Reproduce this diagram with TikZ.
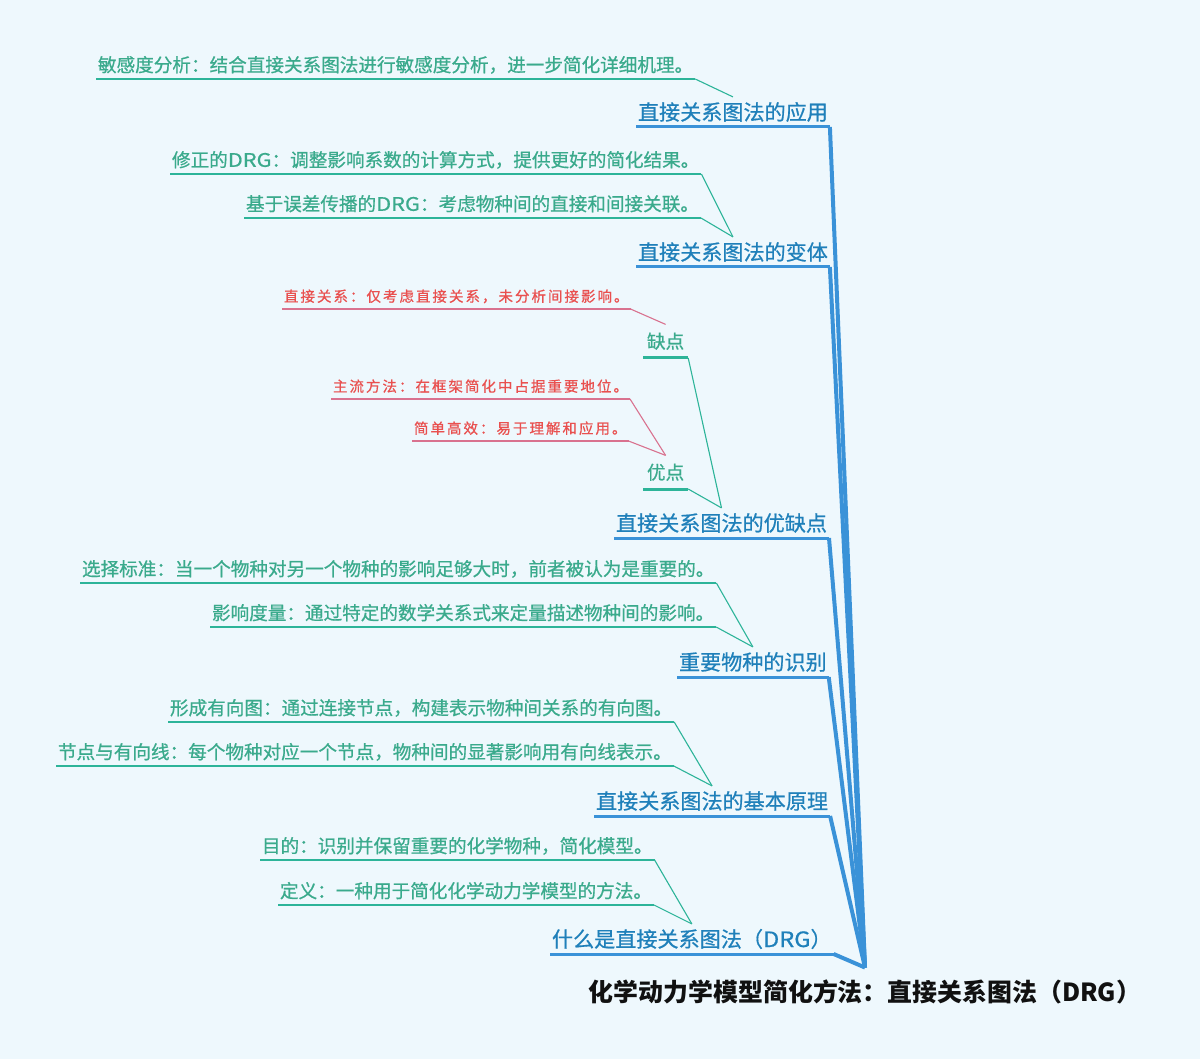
\documentclass[tikz,border=0pt]{standalone}
\usepackage{fontspec}
\usepackage{graphicx}
\setmainfont{Noto Sans CJK SC}
\newfontfamily\medf[FakeBold=0.7]{Noto Sans CJK SC}
\newfontfamily\medls[FakeBold=0.7,LetterSpace=13.8]{Noto Sans CJK SC}
\definecolor{bgc}{HTML}{EEF8FD}
\definecolor{leaft}{HTML}{3AAA8C}
\definecolor{leafl}{HTML}{2DB499}
\definecolor{brt}{HTML}{1F80BA}
\definecolor{brl}{HTML}{3A92D8}
\definecolor{redt}{HTML}{E9504F}
\definecolor{pinkl}{HTML}{D9728F}
\definecolor{roott}{HTML}{111111}
\newcommand\ldrg{\scalebox{1.17}[1]{DRG}}
\newcommand\bdrg{\scalebox{1.12}[1]{DRG}}
\begin{document}
\begin{tikzpicture}[x=1pt,y=-1pt,
  leaf/.style={anchor=south west,inner xsep=2pt,inner ysep=5pt,outer sep=0pt,text=leaft,
    font=\medf\fontsize{18.6}{22}\selectfont,text height=16.4pt,text depth=2.2pt},
  redleaf/.style={anchor=south west,inner xsep=2pt,inner ysep=5.5pt,outer sep=0pt,text=redt,
    font=\medls\fontsize{14.5}{17}\selectfont,text height=12.8pt,text depth=1.8pt},
  sub/.style={anchor=south west,inner xsep=4pt,inner ysep=7.5pt,outer sep=0pt,text=leaft,
    font=\medf\fontsize{18.6}{22}\selectfont,text height=16.4pt,text depth=2.2pt},
  branch/.style={anchor=south west,inner xsep=2pt,inner ysep=4.5pt,outer sep=0pt,text=brt,
    font=\medf\fontsize{21.1}{25}\selectfont,text height=18.6pt,text depth=2.5pt},
  rootn/.style={anchor=center,inner xsep=2pt,inner ysep=12pt,outer sep=0pt,text=roott,
    font=\bfseries\fontsize{24.9}{29}\selectfont,text height=21.9pt,text depth=3pt},
  leafu/.style={draw=leafl,line width=2.6pt},
  subu/.style={draw=leafl,line width=3pt},
  redu/.style={draw=pinkl,line width=2.2pt},
  bru/.style={draw=brl,line width=3pt},
  tconn/.style={draw=leafl,line width=1.1pt},
  pconn/.style={draw=pinkl,line width=1.1pt},
  bconn/.style={draw=brl,line width=4pt,line join=round}]
\fill[bgc] (0,0) rectangle (1200,1059);
\useasboundingbox (0,0) rectangle (1200,1059);

% root
\node[rootn] (root) at (865,992) {化学动力学模型简化方法：直接关系图法（DRG）};

% branches
\node[branch] (b1) at (636,127) {直接关系图法的应用};
\node[branch] (b2) at (636,267) {直接关系图法的变体};
\node[branch] (b3) at (614,538) {直接关系图法的优缺点};
\node[branch] (b4) at (677,677) {重要物种的识别};
\node[branch] (b5) at (594,816) {直接关系图法的基本原理};
\node[branch] (b6) at (550,954) {什么是直接关系图法（\bdrg）};

% sub-branches
\node[sub] (que) at (643,358) {缺点};
\node[sub] (you) at (643,489) {优点};

% leaves
\node[leaf] (l1) at (96,79) {敏感度分析：结合直接关系图法进行敏感度分析，进一步简化详细机理。};
\node[leaf] (l2a) at (170,174) {修正的\ldrg：调整影响系数的计算方式，提供更好的简化结果。};
\node[leaf] (l2b) at (244,218) {基于误差传播的\ldrg：考虑物种间的直接和间接关联。};
\node[leaf] (l4a) at (80,583) {选择标准：当一个物种对另一个物种的影响足够大时，前者被认为是重要的。};
\node[leaf] (l4b) at (210,627) {影响度量：通过特定的数学关系式来定量描述物种间的影响。};
\node[leaf] (l5a) at (168,722) {形成有向图：通过连接节点，构建表示物种间关系的有向图。};
\node[leaf] (l5b) at (56,766) {节点与有向线：每个物种对应一个节点，物种间的显著影响用有向线表示。};
\node[leaf] (l6a) at (260,860) {目的：识别并保留重要的化学物种，简化模型。};
\node[leaf] (l6b) at (278,905) {定义：一种用于简化化学动力学模型的方法。};

% red leaves
\node[redleaf] (r1) at (282,309) {直接关系：仅考虑直接关系，未分析间接影响。};
\node[redleaf] (r2) at (331,399) {主流方法：在框架简化中占据重要地位。};
\node[redleaf] (r3) at (412,441) {简单高效：易于理解和应用。};

% underlines
\foreach \n in {l1,l2a,l2b,l4a,l4b,l5a,l5b,l6a,l6b}
  \draw[leafu] (\n.south west) -- (\n.south east);
\foreach \n in {que,you}
  \draw[subu] (\n.south west) -- (\n.south east);
\foreach \n in {r1,r2,r3}
  \draw[redu] (\n.south west) -- (\n.south east);
\foreach \n in {b1,b2,b3,b4,b5,b6}
  \draw[bru] (\n.south west) -- (\n.south east);

% connectors
\draw[tconn] (l1.south east) -- (b1.north);
\draw[tconn] (l2a.south east) -- (b2.north);
\draw[tconn] (l2b.south east) -- (b2.north);
\draw[tconn] (que.south east) -- (b3.north);
\draw[tconn] (you.south east) -- (b3.north);
\draw[pconn] (r1.south east) -- (que.north);
\draw[pconn] (r2.south east) -- (you.north);
\draw[pconn] (r3.south east) -- (you.north);
\draw[tconn] (l4a.south east) -- (b4.north);
\draw[tconn] (l4b.south east) -- (b4.north);
\draw[tconn] (l5a.south east) -- (b5.north);
\draw[tconn] (l5b.south east) -- (b5.north);
\draw[tconn] (l6a.south east) -- (b6.north);
\draw[tconn] (l6b.south east) -- (b6.north);

\foreach \n in {b1,b2,b3,b4,b5,b6}
  \draw[bconn] (\n.south east) -- (root.north);
\end{tikzpicture}
\end{document}
